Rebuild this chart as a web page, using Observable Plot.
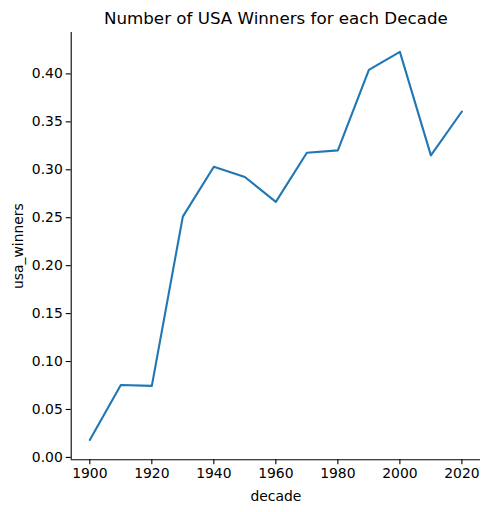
<!DOCTYPE html>
<html>
<head>
<meta charset="utf-8">
<script src="https://cdn.jsdelivr.net/npm/d3@7"></script>
<script src="https://cdn.jsdelivr.net/npm/@observablehq/plot@0.6"></script>
<style>
  html, body { margin: 0; padding: 0; background: white; }
</style>
</head>
<body>
<div id="chart"></div>
<script>
const decades = [1900, 1910, 1920, 1930, 1940, 1950, 1960, 1970, 1980, 1990, 2000, 2010, 2020];
const usaWinners = [0.0182, 0.0755, 0.0746, 0.2512, 0.3032, 0.2925, 0.2665, 0.3178, 0.3202, 0.4043, 0.4230, 0.3150, 0.3608];
const xTicks = [1900, 1920, 1940, 1960, 1980, 2000, 2020];
const yTicks = [0, 0.05, 0.10, 0.15, 0.20, 0.25, 0.30, 0.35, 0.40];
const title = "Number of USA Winners for each Decade";
const xLabel = "decade";
const yLabel = "usa_winners";

const data = decades.map((d, i) => ({decade: d, usa_winners: usaWinners[i]}));
const xDomain = [1894, 2026];
const yDomain = [-0.0025, 0.4432];

const chart = Plot.plot({
  width: 490,
  height: 512,
  marginTop: 32,
  marginLeft: 70.7,
  marginRight: 10,
  marginBottom: 52.7,
  style: {fontFamily: "DejaVu Sans", fontSize: "13.9px", color: "black", background: "white"},
  x: {domain: xDomain},
  y: {domain: yDomain},
  marks: [
    Plot.axisX({ticks: xTicks, tickFormat: d => String(d), tickSize: 4.9, tickPadding: 3.5, strokeWidth: 1.1,
      label: xLabel, labelAnchor: "center", labelArrow: "none", labelOffset: 41}),
    Plot.axisY({ticks: yTicks, tickFormat: d3.format(".2f"), tickSize: 4.9, tickPadding: 3.5, strokeWidth: 1.1,
      label: yLabel, labelAnchor: "center", labelArrow: "none", labelOffset: 58}),
    Plot.ruleX([xDomain[0]], {stroke: "black", strokeWidth: 1.1}),
    Plot.ruleY([yDomain[0]], {stroke: "black", strokeWidth: 1.1}),
    Plot.line(data, {x: "decade", y: "usa_winners", stroke: "#1f77b4", strokeWidth: 2.1}),
    Plot.text([title], {frameAnchor: "top", dy: -14, fontSize: 16.7, fill: "black", lineAnchor: "middle"})
  ]
});
document.getElementById("chart").appendChild(chart);
</script>
</body>
</html>
